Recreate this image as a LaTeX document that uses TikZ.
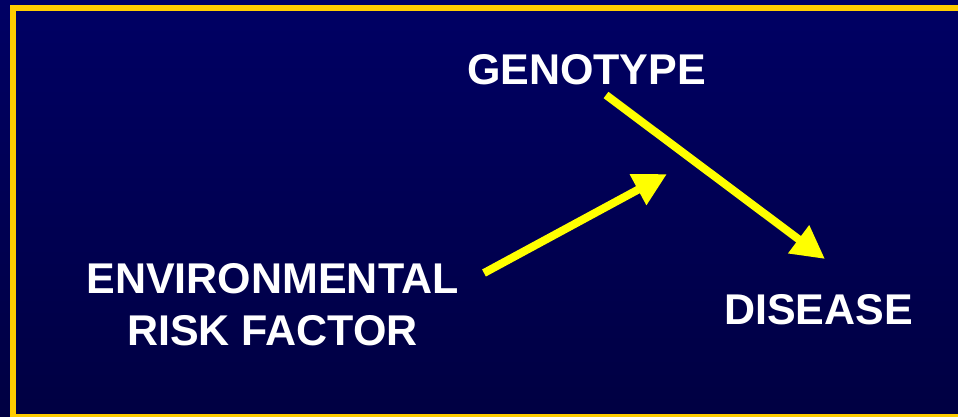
\documentclass[tikz,border=0pt]{standalone}
\usepackage{fontspec}
\setmainfont{Liberation Sans}
\usetikzlibrary{arrows.meta}
\definecolor{navytop}{RGB}{0,0,100}
\definecolor{navybot}{RGB}{0,0,66}
\definecolor{framegold}{RGB}{255,204,0}
\definecolor{arrowyellow}{RGB}{255,255,0}
\tikzset{
  label/.style={text=white, font=\fontsize{43}{52}\selectfont\bfseries, inner sep=0pt, align=center},
  yarrow/.style={draw=arrowyellow, line width=8pt,
    -{Triangle[length=33pt 0 0, width=33pt 0 0, fill=arrowyellow]}}
}
\begin{document}
\begin{tikzpicture}[x=1pt, y=-1pt]
  \useasboundingbox (0,0) rectangle (958,417);
  % background panel
  \shade[top color=navytop, bottom color=navybot] (0,0) rectangle (958,417);
  % gold frame
  \draw[framegold, line width=6pt] (13,8) rectangle (970,417);

  % labels
  \node[label, anchor=base] (geno) at (586.5,85) {GENOTYPE};
  \node[label, anchor=base] (env1) at (272.5,293) {ENVIRONMENTAL};
  \node[label, anchor=base] (env2) at (272.5,345) {RISK FACTOR};
  \node[label, anchor=base] (dis) at (818.5,324) {DISEASE};

  % arrow end points
  \coordinate (g0) at (606,95);
  \coordinate (g1) at (825,259);
  \coordinate (e0) at (484,273);
  \coordinate (e1) at (667,174);

  \draw[yarrow] (g0) -- (g1);
  \draw[yarrow] (e0) -- (e1);
\end{tikzpicture}
\end{document}
